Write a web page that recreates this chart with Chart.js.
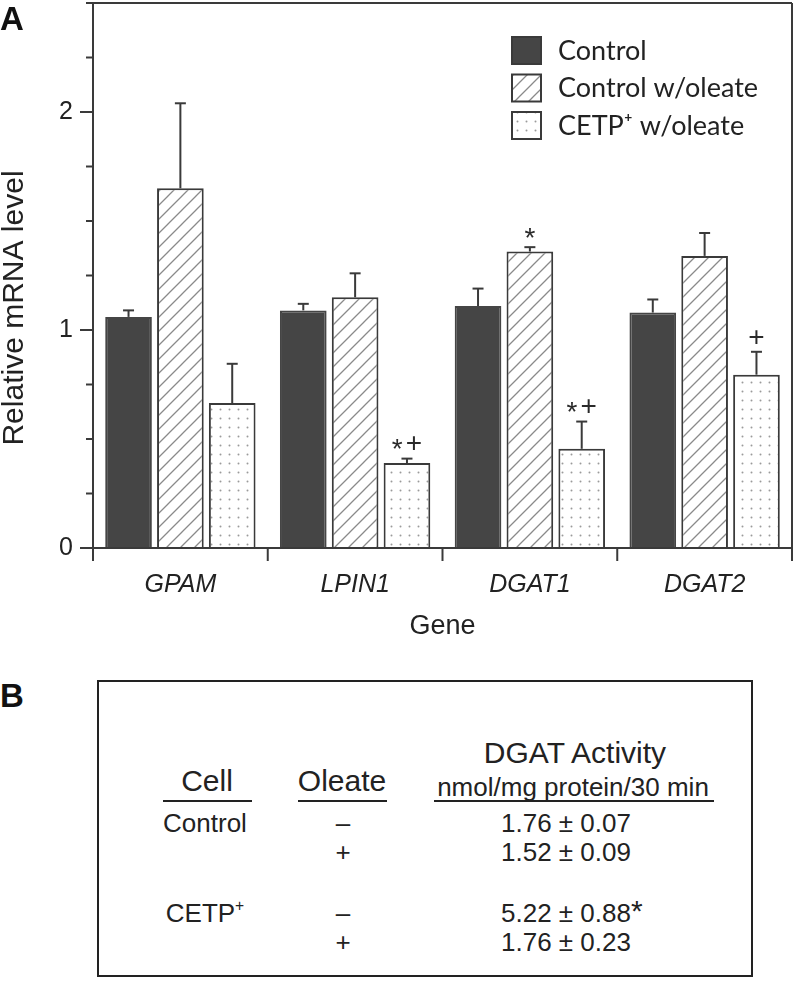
<!DOCTYPE html>
<html>
<head>
<meta charset="utf-8">
<script src="https://cdn.jsdelivr.net/npm/chart.js@4.4.1/dist/chart.umd.min.js"></script>
<style>
  html, body { margin: 0; padding: 0; background: #fff; }
  body { width: 797px; height: 982px; position: relative; overflow: hidden;
         font-family: "Liberation Sans", Arial, sans-serif; color: #222; }
  #wrapA { position: absolute; left: 0; top: 0; width: 797px; height: 650px; }
  .panel { position: absolute; left: 0; font-weight: bold; font-size: 33px; line-height: 1; color: #111; }
  .lbl { position: absolute; transform: translate(-50%, -50%); white-space: nowrap; line-height: 1; }
  .lbl sup { font-size: 60%; position: relative; top: -0.1em; }
  .rule { position: absolute; height: 2px; background: #222; }
  #boxB { position: absolute; left: 97px; top: 680px; width: 652px; height: 293px; border: 2px solid #222; }
</style>
</head>
<body>
<div id="wrapA"><canvas id="chartA" width="797" height="650"></canvas></div>
<div class="panel" style="top:2px">A</div>
<div class="panel" style="top:679px">B</div>
<div id="boxB"></div>
<div id="tableB"></div>
<script>
// panel A data
const categories = ["GPAM", "LPIN1", "DGAT1", "DGAT2"];
const seriesNames = ["Control", "Control w/oleate", "CETP\u207A w/oleate"];
const control = [1.06, 1.09, 1.11, 1.08];
const controlErr = [0.03, 0.03, 0.08, 0.06];
const oleate = [1.65, 1.15, 1.36, 1.34];
const oleateErr = [0.39, 0.11, 0.02, 0.105];
const cetp = [0.665, 0.39, 0.455, 0.795];
const cetpErr = [0.18, 0.02, 0.125, 0.105];
const oleateMarks = ["", "", "*", ""];
const cetpMarks = ["", "*+", "*+", "+"];
const yLabelled = [0, 1, 2];

// panel B data
const cellNames = ["Control", "", "CETP\u207A", ""];
const oleateSigns = ["\u2013", "+", "\u2013", "+"];
const activity = ["1.76 \u00B1 0.07", "1.52 \u00B1 0.09", "5.22 \u00B1 0.88", "1.76 \u00B1 0.23"];
const activityMarks = ["", "", "*", ""];

const ink = "#3a3a3a";
const sans = "'Liberation Sans', Arial, sans-serif";

function makePattern(size, draw) {
  const c = document.createElement("canvas");
  c.width = size; c.height = size;
  const g = c.getContext("2d");
  g.fillStyle = "#fff";
  g.fillRect(0, 0, size, size);
  draw(g, size);
  return g.createPattern(c, "repeat");
}
const hatch = makePattern(14, (g, s) => {
  g.strokeStyle = "#8a8a8a";
  g.lineWidth = 1.3;
  g.beginPath();
  g.moveTo(0, s); g.lineTo(s, 0);
  g.moveTo(-2, 2); g.lineTo(2, -2);
  g.moveTo(s - 2, s + 2); g.lineTo(s + 2, s - 2);
  g.stroke();
});
const dots = makePattern(9, (g) => {
  g.fillStyle = "#9a9a9a";
  g.beginPath();
  g.arc(4.5, 4.5, 1, 0, Math.PI * 2);
  g.fill();
});

function line(ctx, x1, y1, x2, y2) {
  ctx.beginPath(); ctx.moveTo(x1, y1); ctx.lineTo(x2, y2); ctx.stroke();
}

function drawMark(ctx, text, cx, cy) {
  ctx.font = "28px " + sans;
  const gap = 3;
  const chars = text.split("");
  const widths = chars.map(ch => ctx.measureText(ch).width);
  let x = cx - (widths.reduce((a, b) => a + b, 0) + gap * (chars.length - 1)) / 2;
  ctx.textAlign = "left";
  ctx.textBaseline = "middle";
  chars.forEach((ch, k) => {
    ctx.fillText(ch, x, ch === "*" ? cy + 6 : cy);
    x += widths[k] + gap;
  });
}

const decorations = {
  id: "decorations",
  afterDatasetsDraw(chart) {
    const ctx = chart.ctx;
    const y = chart.scales.y;
    ctx.save();
    ctx.strokeStyle = ink;
    ctx.fillStyle = "#2a2a2a";
    ctx.lineWidth = 2;
    chart.data.datasets.forEach((ds, i) => {
      chart.getDatasetMeta(i).data.forEach((bar, j) => {
        const top = y.getPixelForValue(ds.data[j] + ds.errors[j]);
        line(ctx, bar.x, bar.y, bar.x, top);
        line(ctx, bar.x - 5.5, top, bar.x + 5.5, top);
        if (ds.marks && ds.marks[j]) drawMark(ctx, ds.marks[j], bar.x, top - 14);
      });
    });
    ctx.restore();
  },
  afterDraw(chart) {
    const ctx = chart.ctx;
    const {left, right, top, bottom} = chart.chartArea;
    const x = chart.scales.x, y = chart.scales.y;
    ctx.save();
    ctx.strokeStyle = ink;
    ctx.lineWidth = 2;
    line(ctx, left, top, left, bottom + 13);
    line(ctx, left - 13, bottom, right, bottom);
    line(ctx, left, top, right, top);
    line(ctx, right, top, right, bottom + 13);
    y.ticks.forEach(t => {
      const py = y.getPixelForValue(t.value);
      line(ctx, left - (yLabelled.includes(t.value) ? 13 : 7), py, left, py);
    });
    for (let k = 1; k < categories.length; k++) {
      const px = (x.getPixelForValue(k - 1) + x.getPixelForValue(k)) / 2;
      line(ctx, px, bottom, px, bottom + 13);
    }

    // y title
    ctx.fillStyle = "#222";
    ctx.font = "30px " + sans;
    ctx.textAlign = "center";
    ctx.textBaseline = "middle";
    ctx.translate(15, 308);
    ctx.rotate(-Math.PI / 2);
    ctx.fillText("Relative mRNA level", 0, 0);
    ctx.setTransform(1, 0, 0, 1, 0, 0);

    // legend
    ctx.font = "27px Lato, 'DejaVu Sans', sans-serif";
    ctx.textAlign = "left";
    chart.data.datasets.forEach((ds, i) => {
      const by = 37 + i * 37.5;
      ctx.fillStyle = ds.backgroundColor;
      ctx.fillRect(512, by, 29, 27);
      ctx.lineWidth = 2;
      ctx.strokeRect(512, by, 29, 27);
      ctx.fillStyle = "#222";
      ctx.fillText(ds.label, 558, by + 14);
    });
    ctx.restore();
  }
};

new Chart(document.getElementById("chartA"), {
  type: "bar",
  data: {
    labels: categories,
    datasets: [
      { label: seriesNames[0], data: control, errors: controlErr, marks: null,
        backgroundColor: "#454545", borderColor: "#454545" },
      { label: seriesNames[1], data: oleate, errors: oleateErr, marks: oleateMarks,
        backgroundColor: hatch, borderColor: ink },
      { label: seriesNames[2], data: cetp, errors: cetpErr, marks: cetpMarks,
        backgroundColor: dots, borderColor: ink }
    ]
  },
  options: {
    responsive: false,
    animation: false,
    events: [],
    layout: { padding: { top: 3, right: 5, left: 0, bottom: 0 } },
    datasets: {
      bar: { borderWidth: 2, categoryPercentage: 0.89, barPercentage: 0.9 }
    },
    plugins: {
      legend: { display: false },
      tooltip: { enabled: false }
    },
    scales: {
      x: {
        grid: { display: false, drawTicks: false },
        border: { display: false },
        ticks: { color: "#222", padding: 22, font: { family: sans, size: 25, style: "italic" } },
        title: { display: true, text: "Gene", color: "#222", font: { family: sans, size: 27 },
                 padding: { top: 0, bottom: 7 } },
        afterFit: s => { s.height = 102; s.paddingLeft = 0; s.paddingRight = 0; }
      },
      y: {
        min: 0,
        max: 2.5,
        grid: { display: false, drawTicks: false },
        border: { display: false },
        ticks: {
          stepSize: 0.25,
          autoSkip: false,
          padding: 20,
          color: "#222",
          font: { family: sans, size: 25 },
          callback: v => (yLabelled.includes(v) ? String(v) : "")
        },
        afterFit: s => { s.width = 93; s.paddingTop = 0; s.paddingBottom = 0; }
      }
    }
  },
  plugins: [decorations]
});

// panel B table
const tableB = document.getElementById("tableB");
function put(html, cx, cy, size) {
  const d = document.createElement("div");
  d.className = "lbl";
  d.style.left = cx + "px";
  d.style.top = cy + "px";
  d.style.fontSize = size + "px";
  d.innerHTML = html;
  tableB.appendChild(d);
  return d;
}
function rule(x1, x2, yy) {
  const d = document.createElement("div");
  d.className = "rule";
  d.style.left = x1 + "px";
  d.style.width = (x2 - x1) + "px";
  d.style.top = (yy - 1) + "px";
  tableB.appendChild(d);
}
const sup = s => s.replace("\u207A", "<sup>+</sup>");
put("DGAT Activity", 575, 753, 30);
put("nmol/mg protein/30 min", 573, 787, 26);
put("Cell", 207, 781, 30);
put("Oleate", 342, 781, 30);
rule(163, 252, 801);
rule(298, 387, 801);
rule(434, 714, 801);
const rowY = [823, 852, 913, 942];
rowY.forEach((ry, r) => {
  if (cellNames[r]) put(sup(cellNames[r]), 205, ry, 26);
  put(oleateSigns[r], 343, ry, 26);
  const v = put(activity[r], 566, ry, 26);
  if (activityMarks[r]) {
    const m = document.createElement("span");
    m.textContent = activityMarks[r];
    m.style.position = "absolute";
    m.style.left = "100%";
    m.style.top = "-0.15em";
    m.style.fontSize = "30px";
    v.appendChild(m);
  }
});
</script>
</body>
</html>
